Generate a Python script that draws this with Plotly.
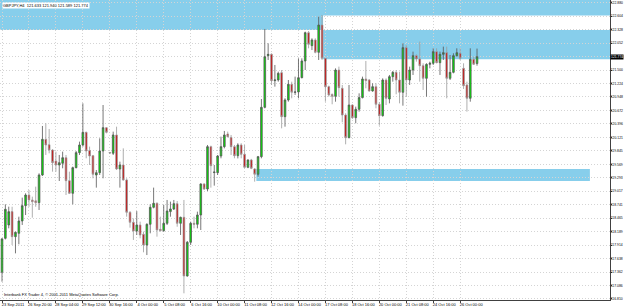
import plotly.graph_objects as go

# ---------------- data (GBPJPY, H4) ----------------
opens = [117.356, 118.053, 118.326, 118.600, 118.087, 118.155, 118.408, 118.722, 118.940, 118.838,
         118.820, 118.783, 119.350, 120.081, 119.970, 119.862, 119.637, 119.555, 119.590, 119.705,
         119.234, 118.975, 119.500, 119.808, 119.965, 120.224, 119.850, 119.746, 119.350, 119.398,
         119.842, 120.320, 119.810, 119.794, 120.170, 119.473, 119.555, 119.248, 118.585, 118.380,
         118.203, 118.326, 118.135, 117.916, 118.340, 118.688, 118.770, 118.237, 118.210, 118.360,
         118.600, 118.654, 118.763, 118.360, 118.483, 117.281, 117.971, 118.360, 118.340, 118.531,
         119.166, 119.063, 119.931, 119.400, 119.398, 119.739, 119.931, 120.190, 120.120, 119.931,
         119.746, 119.965, 119.774, 119.507, 119.658, 119.473, 119.364, 119.726, 120.736, 121.795,
         121.822, 121.283, 121.297, 121.447, 120.545, 120.887, 121.208, 121.044, 121.050, 121.344,
         121.686, 122.266, 122.000, 122.116, 121.863, 122.423, 121.740, 121.160, 121.000, 120.962,
         121.501, 121.126, 120.579, 120.115, 120.784, 120.525, 120.696, 120.935, 121.317, 121.297,
         121.071, 121.160, 120.798, 120.566, 121.296, 120.907, 121.365, 121.453, 121.296, 121.044,
         121.959, 121.296, 121.501, 121.795, 121.727, 121.590, 121.330, 121.617, 121.638, 121.877,
         121.651, 121.822, 121.856, 121.330, 121.453, 121.795, 121.843, 121.535, 121.194, 120.921,
         121.720, 121.633]
highs = [118.060, 118.749, 118.701, 118.700, 118.190, 118.496, 118.886, 118.975, 119.043, 118.906,
         119.111, 119.384, 120.354, 120.409, 120.292, 119.880, 119.828, 119.760, 119.828, 119.760,
         119.418, 119.521, 119.842, 120.033, 120.818, 120.238, 119.931, 119.760, 119.452, 120.101,
         120.784, 120.330, 119.820, 120.238, 120.340, 119.623, 119.896, 119.282, 118.610, 118.460,
         118.610, 118.394, 118.190, 118.360, 118.749, 119.091, 118.790, 118.496, 118.735, 118.838,
         118.804, 118.838, 118.817, 118.496, 118.838, 117.998, 118.394, 118.496, 118.599, 119.180,
         119.180, 119.965, 119.951, 119.555, 119.760, 120.135, 120.252, 120.238, 120.170, 119.965,
         120.000, 120.000, 119.965, 119.670, 119.680, 119.490, 119.740, 120.907, 122.341, 122.048,
         121.843, 121.604, 121.467, 121.501, 120.921, 121.296, 121.262, 121.365, 121.740, 121.740,
         122.287, 122.300, 122.150, 122.150, 122.594, 122.628, 121.750, 121.180, 121.020, 121.535,
         121.570, 121.194, 120.614, 121.194, 120.800, 120.750, 121.023, 121.365, 121.686, 121.317,
         121.228, 121.228, 120.840, 121.330, 121.330, 121.399, 121.480, 121.501, 121.467, 122.048,
         122.013, 121.570, 121.877, 121.822, 122.082, 121.638, 121.638, 121.672, 121.945, 121.945,
         121.877, 121.980, 121.980, 121.808, 121.843, 121.945, 121.945, 121.638, 121.262, 121.945,
         121.774, 121.940]
lows = [117.165, 118.030, 118.257, 117.916, 117.745, 117.930, 118.326, 118.530, 118.700, 118.476,
        118.700, 118.633, 119.330, 119.760, 119.794, 119.418, 119.418, 119.227, 119.487, 118.940,
        118.960, 118.749, 119.487, 119.760, 119.931, 119.692, 119.555, 119.282, 119.091, 119.350,
        119.282, 120.204, 119.790, 119.760, 119.452, 119.091, 119.234, 118.496, 118.271, 118.019,
        118.121, 118.053, 117.766, 117.710, 118.155, 118.667, 118.087, 118.190, 118.190, 118.326,
        118.496, 118.633, 118.290, 118.121, 116.926, 117.267, 117.916, 118.257, 118.257, 118.223,
        119.043, 119.020, 119.091, 119.132, 119.350, 119.692, 119.896, 120.120, 119.760, 119.692,
        119.690, 119.692, 119.487, 119.490, 119.470, 119.214, 119.316, 119.692, 120.716, 121.706,
        121.194, 121.160, 121.262, 120.306, 120.340, 120.853, 120.921, 120.990, 120.921, 121.330,
        121.501, 121.945, 121.910, 121.843, 121.706, 121.706, 120.852, 120.955, 120.798, 120.852,
        120.955, 120.429, 119.978, 120.101, 120.497, 120.409, 120.648, 120.920, 121.126, 121.057,
        121.057, 120.716, 120.361, 120.545, 120.784, 120.818, 121.262, 121.003, 120.818, 120.770,
        120.955, 121.194, 121.399, 121.672, 121.262, 121.092, 120.955, 121.535, 121.604, 121.638,
        121.399, 121.706, 120.921, 121.296, 121.433, 121.774, 121.706, 121.112, 120.648, 120.852,
        121.604, 121.589]
closes = [118.039, 118.647, 118.599, 118.087, 118.176, 118.408, 118.722, 118.940, 118.838, 118.804,
          118.783, 119.350, 120.081, 119.965, 119.862, 119.603, 119.555, 119.603, 119.705, 119.234,
          118.975, 119.500, 119.808, 119.965, 120.224, 119.842, 119.739, 119.364, 119.398, 119.842,
          120.320, 120.224, 119.800, 120.170, 119.473, 119.555, 119.248, 118.585, 118.380, 118.203,
          118.326, 118.121, 117.916, 118.340, 118.688, 118.770, 118.223, 118.210, 118.360, 118.613,
          118.654, 118.763, 118.360, 118.483, 117.281, 117.971, 118.360, 118.340, 118.531, 119.166,
          119.063, 119.931, 119.541, 119.410, 119.739, 119.931, 120.170, 120.135, 119.931, 119.746,
          119.965, 119.774, 119.507, 119.658, 119.487, 119.364, 119.726, 120.736, 121.774, 121.822,
          121.283, 121.297, 121.433, 120.545, 120.887, 121.208, 121.044, 121.050, 121.344, 121.686,
          122.266, 122.027, 122.116, 121.863, 122.423, 121.740, 121.160, 120.989, 120.962, 121.501,
          121.139, 120.579, 120.115, 120.784, 120.525, 120.696, 120.935, 121.317, 121.283, 121.071,
          121.160, 120.798, 120.566, 121.296, 120.921, 121.365, 121.453, 121.296, 121.044, 121.959,
          121.296, 121.501, 121.795, 121.727, 121.590, 121.330, 121.617, 121.638, 121.877, 121.651,
          121.822, 121.856, 121.330, 121.453, 121.795, 121.856, 121.740, 121.180, 120.921, 121.720,
          121.617, 121.774]
bar_index = list(range(len(opens)))

date_ticks = [0, 8, 16, 24, 32, 40, 48, 56, 64, 72, 80, 88, 96, 104, 112, 120, 128, 136]
date_labels = ["23 Sep 2011", "26 Sep 20:00", "28 Sep 04:00", "29 Sep 12:00", "30 Sep 16:00",
               "4 Oct 00:00", "5 Oct 08:00", "6 Oct 16:00", "10 Oct 00:00", "11 Oct 08:00",
               "12 Oct 16:00", "14 Oct 00:00", "17 Oct 08:00", "18 Oct 16:00", "20 Oct 00:00",
               "21 Oct 08:00", "24 Oct 16:00", "26 Oct 00:00"]

price_ticks = [122.880, 122.604, 122.328, 122.052, 121.776, 121.500, 121.224, 120.948, 120.672,
               120.396, 120.121, 119.845, 119.569, 119.293, 119.017, 118.741, 118.465, 118.189,
               117.914, 117.638, 117.362, 117.086, 116.810]
price_labels = ["122.880", "122.604", "122.328", "122.052", "", "121.500", "121.224", "120.948",
                "120.672", "120.396", "120.121", "119.845", "119.569", "119.293", "119.017",
                "118.741", "118.465", "118.189", "117.914", "117.638", "117.362", "117.086",
                "116.810"]

symbol = "GBPJPY,H4"
last_price = 121.774

# supply / demand zones drawn on the chart (bar index from/to, price top/bottom)
zone_from = [-5, -5, 95.3, 75.5]
zone_to = [185, 95.3, 185, 174.5]
zone_top = [123.2, 123.2, 122.320, 119.473]
zone_bottom = [122.617, 122.320, 121.720, 119.227]

# ---------------- figure ----------------
fig = go.Figure()

for x0, x1, y1, y0 in zip(zone_from, zone_to, zone_top, zone_bottom):
    fig.add_shape(type="rect", xref="x", yref="y", x0=x0, x1=x1, y0=y0, y1=y1,
                  fillcolor="#87ceeb", line=dict(width=0), layer="below")

fig.add_trace(go.Candlestick(
    x=bar_index, open=opens, high=highs, low=lows, close=closes,
    increasing=dict(fillcolor="#00e600", line=dict(color="#555555", width=0.8)),
    decreasing=dict(fillcolor="#c80000", line=dict(color="#9a9a9a", width=0.8)),
    whiskerwidth=0, showlegend=False, hoverinfo="skip",
))

FONT = "Liberation Sans Narrow, Liberation Sans, sans-serif"
FS = 4.0
FSY = 3.4
fig.update_layout(
    width=625, height=307,
    margin=dict(l=0, r=15, t=0, b=7, autoexpand=False),
    paper_bgcolor="white", plot_bgcolor="white",
    font=dict(family=FONT, size=FS, color="black"),
    showlegend=False,
    xaxis=dict(
        range=[-0.594, 180.47], rangeslider=dict(visible=False),
        tickmode="array", tickvals=date_ticks, ticktext=date_labels,
        tickangle=0, automargin=False,
        showgrid=True, gridcolor="#d4d4d4", griddash="1px,2px", gridwidth=1,
        ticks="outside", ticklen=2, tickcolor="#404040", tickwidth=1,
        tickfont=dict(family=FONT, size=FS, color="black"),
        ticklabelshift=11, ticklabelstandoff=-2,
        showline=True, linecolor="#404040", linewidth=1, zeroline=False,
    ),
    yaxis=dict(
        side="right", range=[116.789, 122.935], automargin=False,
        tickmode="array", tickvals=price_ticks, ticktext=price_labels,
        showgrid=True, gridcolor="#d4d4d4", griddash="1px,2px", gridwidth=1,
        ticks="outside", ticklen=1, tickcolor="#404040", tickwidth=1,
        tickfont=dict(family=FONT, size=FSY, color="black"),
        ticklabelstandoff=-2,
        showline=True, linecolor="#404040", linewidth=1, mirror=True, zeroline=False,
    ),
)

fig.add_annotation(xref="paper", yref="y", x=1.0, y=last_price, xanchor="left", yanchor="middle",
                   text=f"{last_price:.3f}", showarrow=False, bgcolor="black", borderpad=0,
                   xshift=0, font=dict(family=FONT, size=FSY, color="white"))

fig.add_annotation(xref="paper", yref="paper", x=0.004, y=0.995, xanchor="left", yanchor="top",
                   text=f"{symbol}  {opens[-1]:.3f} {highs[-1]:.3f} {lows[-1]:.3f} {closes[-1]:.3f}",
                   showarrow=False, bgcolor="white", borderpad=0,
                   font=dict(family=FONT, size=FS, color="black"))

fig.add_annotation(xref="paper", yref="paper", x=0.004, y=0.02, xanchor="left", yanchor="middle",
                   text="Interbank FX Trader 4, © 2001-2011 MetaQuotes Software Corp.",
                   showarrow=False, font=dict(family=FONT, size=FS, color="black"))

fig.write_html("out.html")
